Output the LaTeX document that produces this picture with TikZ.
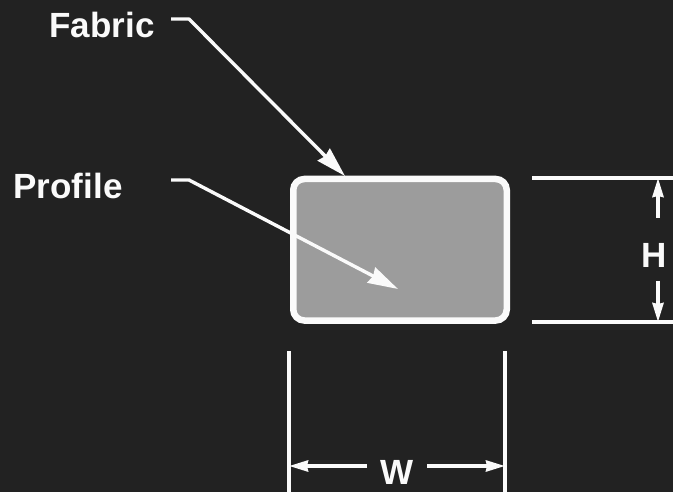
\documentclass[tikz,border=0pt]{standalone}
\usepackage{fontspec}
\setmainfont{Liberation Sans}
\usetikzlibrary{arrows.meta}
\definecolor{bgdark}{HTML}{222222}
\definecolor{fillgrey}{HTML}{9C9C9C}
\definecolor{inkwhite}{HTML}{FAFAFA}
\tikzset{
  labeltext/.style={text=inkwhite,font=\fontsize{35}{40}\bfseries\selectfont,inner sep=0pt,anchor=base},
  leader/.style={draw=inkwhite,line width=3.4pt,-{Stealth[length=30pt,width=17pt,inset=2pt]},line join=round},
  dimline/.style={draw=inkwhite,line width=3.4pt},
  dimarrow/.style={draw=inkwhite,line width=3.4pt,-{Stealth[length=19pt,width=11pt,inset=1pt]}},
  profilebox/.style={draw=inkwhite,fill=fillgrey,line width=6.5pt,rounded corners=11pt,outer sep=0pt,inner sep=0pt,minimum width=213.5pt,minimum height=141.5pt}
}
\begin{document}
\begin{tikzpicture}[x=1pt,y=-1pt]
\useasboundingbox[fill=bgdark] (0,0) rectangle (673,492);
\node[profilebox] (box) at (400,249.75) {};
\node[labeltext] (fabric) at (102,38) {Fabric};
\node[labeltext] (profile) at (68,199) {Profile};
\node[labeltext] (h) at (654,268) {H};
\node[labeltext] (w) at (397,484) {W};
\coordinate (fs) at (171,19);
\coordinate (fb) at (189,19);
\coordinate (ft) at (345,176);
\coordinate (ps) at (171,180);
\coordinate (pb) at (189,180);
\coordinate (pt) at (398,289);
\draw[leader] (fs) -- (fb) -- (ft);
\draw[leader] (ps) -- (pb) -- (pt);
\coordinate (ha) at (532,178);
\coordinate (hab) at (673,178);
\coordinate (hb) at (532,322);
\coordinate (hbb) at (673,322);
\draw[dimline] (ha) -- (hab);
\draw[dimline] (hb) -- (hbb);
\coordinate (hu0) at (658,218);
\coordinate (hu1) at (658,178);
\coordinate (hd0) at (658,281);
\coordinate (hd1) at (658,322);
\draw[dimarrow] (hu0) -- (hu1);
\draw[dimarrow] (hd0) -- (hd1);
\coordinate (wa) at (289,351);
\coordinate (wab) at (289,492);
\coordinate (wb) at (505,351);
\coordinate (wbb) at (505,492);
\draw[dimline] (wa) -- (wab);
\draw[dimline] (wb) -- (wbb);
\coordinate (wl0) at (367,466);
\coordinate (wl1) at (289,466);
\coordinate (wr0) at (427,466);
\coordinate (wr1) at (505,466);
\draw[dimarrow] (wl0) -- (wl1);
\draw[dimarrow] (wr0) -- (wr1);
\end{tikzpicture}
\end{document}
